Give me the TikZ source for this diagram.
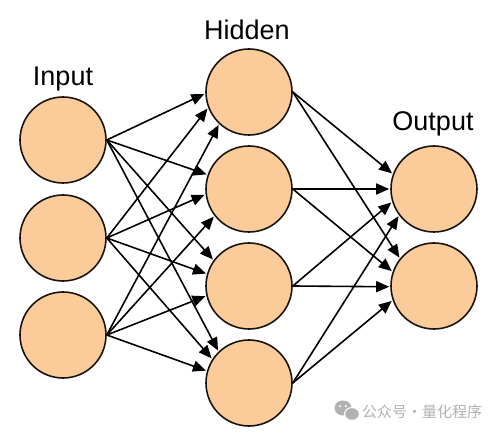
\documentclass[tikz,border=0pt]{standalone}
\usepackage{fontspec}
\setmainfont{Liberation Sans}
\newfontfamily\cjk{Noto Sans CJK SC}
\usetikzlibrary{arrows.meta}
\definecolor{peach}{RGB}{251,203,153}
\definecolor{edgecol}{RGB}{25,20,15}
\definecolor{wm}{RGB}{178,178,178}
\begin{document}
\begin{tikzpicture}[x=1pt,y=-1pt,
  neuron/.style={circle,draw=edgecol,fill=peach,line width=1.6pt,minimum size=86pt,inner sep=0pt},
  lbl/.style={font=\fontsize{27}{31}\selectfont,text=black,anchor=base,inner sep=0pt},
  conn/.style={draw=black,line width=1.6pt,-{Triangle[length=13pt,width=11pt]},shorten >=1pt}]
\useasboundingbox (0,0) rectangle (499,433);
\fill[white] (0,0) rectangle (499,433);
% neurons
\node[neuron] (i1) at (63,140) {};
\node[neuron] (i2) at (63,238) {};
\node[neuron] (i3) at (63,335) {};
\node[neuron] (h1) at (249,92) {};
\node[neuron] (h2) at (249,189) {};
\node[neuron] (h3) at (249,286) {};
\node[neuron] (h4) at (249,383) {};
\node[neuron] (o1) at (434,189) {};
\node[neuron] (o2) at (434,286) {};
% labels
\node[lbl] (tin) at (63,86) {Input};
\node[lbl] (thid) at (247,40) {Hidden};
\node[lbl] (tout) at (433,131) {Output};
% input -> hidden
\draw[conn] (i1.east) -- (h1.182);
\draw[conn] (i1.east) -- (h2.161);
\draw[conn] (i1.east) -- (h3.144);
\draw[conn] (i1.east) -- (h4.134);
\draw[conn] (i2.east) -- (h1.201);
\draw[conn] (i2.east) -- (h2.187);
\draw[conn] (i2.east) -- (h3.164);
\draw[conn] (i2.east) -- (h4.147);
\draw[conn] (i3.east) -- (h1.227);
\draw[conn] (i3.east) -- (h2.218);
\draw[conn] (i3.east) -- (h3.193);
\draw[conn] (i3.east) -- (h4.164);
% hidden -> output
\draw[conn] (h1.east) -- (o1.160);
\draw[conn] (h1.east) -- (o2.141);
\draw[conn] (h2.east) -- (o1.180);
\draw[conn] (h2.east) -- (o2.161);
\draw[conn] (h3.east) -- (o1.197);
\draw[conn] (h3.east) -- (o2.181);
\draw[conn] (h4.east) -- (o1.217);
\draw[conn] (h4.east) -- (o2.199);
% watermark
\fill[wm] (343,408) ellipse [x radius=8.5, y radius=7.5];
\fill[white] (352,414) ellipse [x radius=8, y radius=7];
\fill[wm] (352,414) ellipse [x radius=6.8, y radius=5.8];
\fill[white] (340,406) circle [radius=1.1];
\fill[white] (346,406) circle [radius=1.1];
\node[anchor=west,inner sep=0pt,text=wm,font=\cjk\fontsize{15}{18}\selectfont] (wmtext) at (362,412) {公众号·量化程序};
\end{tikzpicture}
\end{document}
